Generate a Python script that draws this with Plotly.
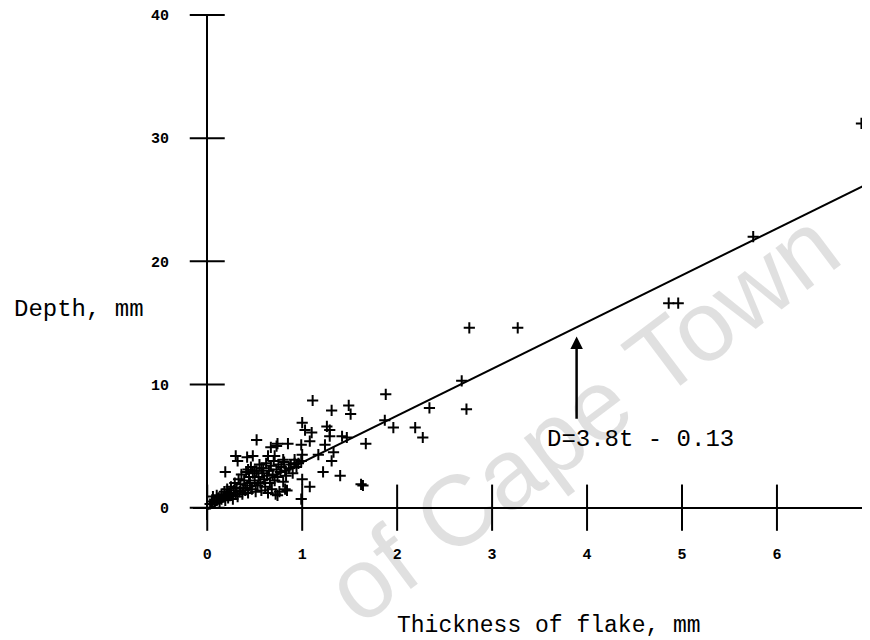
import plotly.graph_objects as go

# ---- data ----
thickness = [
    6.89, 5.75, 4.86, 4.96, 2.76, 3.27,
    1.88, 1.87, 1.96, 2.19, 2.27, 2.34, 2.68, 2.73,
    1.11, 1.31, 1.49, 1.51, 1.00, 1.03, 1.10, 1.26, 1.29, 1.29, 1.42, 1.47, 1.67,
    0.52, 0.74, 0.73, 0.85, 0.99, 1.08, 1.24, 0.67, 0.64, 0.30, 0.32, 0.42, 0.48,
    0.71, 0.80, 1.17, 1.00, 1.33, 1.31, 0.99, 0.92, 0.19, 0.43, 0.50, 0.57, 0.82,
    1.22, 1.40, 1.00, 1.08, 1.62, 1.64, 0.99, 0.82, 0.74,
    0.03, 0.05, 0.06, 0.08, 0.10, 0.10, 0.12, 0.13, 0.15, 0.15, 0.17, 0.18, 0.19,
    0.20, 0.21, 0.22, 0.23, 0.25, 0.25, 0.27, 0.28, 0.29, 0.30, 0.31, 0.32, 0.33,
    0.34, 0.35, 0.36, 0.37, 0.38, 0.39, 0.40, 0.41, 0.42, 0.43, 0.44, 0.45, 0.46,
    0.47, 0.48, 0.50, 0.51, 0.52, 0.53, 0.54, 0.55, 0.56, 0.57, 0.58, 0.59, 0.60,
    0.61, 0.62, 0.63, 0.64, 0.65, 0.66, 0.67, 0.68, 0.69, 0.70, 0.71, 0.72, 0.73,
    0.74, 0.75, 0.76, 0.77, 0.78, 0.80, 0.81, 0.83, 0.84, 0.86, 0.88, 0.90, 0.92,
    0.94, 0.96,
]
depth = [
    31.2, 22.0, 16.6, 16.6, 14.6, 14.6,
    9.2, 7.1, 6.5, 6.5, 5.7, 8.1, 10.3, 8.0,
    8.7, 7.9, 8.3, 7.6, 6.9, 6.3, 6.1, 6.6, 6.3, 5.8, 5.8, 5.7, 5.2,
    5.5, 5.2, 5.0, 5.2, 5.1, 5.4, 5.1, 4.9, 4.2, 4.2, 3.8, 4.1, 4.2,
    4.2, 3.9, 4.3, 4.3, 4.5, 3.8, 3.8, 3.6, 2.9, 3.1, 3.0, 3.2, 3.0,
    2.9, 2.6, 2.3, 1.7, 1.9, 1.8, 0.7, 1.5, 1.0,
    0.3, 0.5, 0.9, 0.4, 0.6, 1.0, 0.8, 0.5, 0.7, 1.1, 0.9, 1.3, 0.6,
    1.0, 1.5, 0.8, 1.2, 1.0, 1.7, 0.7, 1.4, 2.0, 1.1, 1.6, 0.9, 2.3,
    1.3, 1.9, 2.7, 1.1, 1.6, 2.2, 1.4, 2.9, 1.8, 1.2, 2.5, 2.0, 3.3,
    1.5, 2.8, 2.2, 1.3, 3.0, 1.8, 2.5, 3.5, 2.0, 1.4, 2.8, 3.2, 2.3,
    1.7, 3.6, 2.6, 1.2, 3.0, 2.0, 3.4, 1.5, 2.7, 3.8, 2.2, 1.1, 3.1,
    2.5, 3.5, 1.3, 2.9, 3.3, 2.1, 3.7, 2.6, 1.4, 3.2, 3.5, 2.8, 3.9,
    3.3, 3.6,
]

slope = 3.8
intercept = -0.13
fit_x = [0.0, 7.0]
fit_y = [slope * v + intercept for v in fit_x]

x_ticks = [0, 1, 2, 3, 4, 5, 6]
x_labels = ["0", "1", "2", "3", "4", "5", "6"]
y_ticks = [0, 10, 20, 30, 40]
y_labels = ["0", "10", "20", "30", "40"]

x_title = "Thickness of flake, mm"
y_title = "Depth, mm"
equation = "D=3.8t - 0.13"
watermark = "of Cape Town"

MONO = "Liberation Mono, Courier New, monospace"

fig = go.Figure()

# regression line
fig.add_trace(go.Scatter(x=fit_x, y=fit_y, mode="lines",
                         line=dict(color="black", width=2), hoverinfo="skip"))

# data points
fig.add_trace(go.Scatter(x=thickness, y=depth, mode="markers",
                         marker=dict(symbol="cross-thin-open", size=8, color="black",
                                     line=dict(color="black", width=2))))

# crossing tick marks on the axes
fig.add_trace(go.Scatter(x=x_ticks, y=[0] * len(x_ticks), mode="markers",
                         cliponaxis=False, hoverinfo="skip",
                         marker=dict(symbol="line-ns-open", size=33, color="black",
                                     line=dict(color="black", width=2))))
fig.add_trace(go.Scatter(x=[0] * len(y_ticks), y=y_ticks, mode="markers",
                         cliponaxis=False, hoverinfo="skip",
                         marker=dict(symbol="line-ew-open", size=25, color="black",
                                     line=dict(color="black", width=2))))

# the page body adds an 8px offset, so the figure is 8px smaller
fig.update_layout(
    width=862, height=632,
    margin=dict(l=185, r=0, t=7, b=120),
    paper_bgcolor="white", plot_bgcolor="white",
    showlegend=False,
    xaxis=dict(range=[-0.15, 6.98], showgrid=False, showline=False,
               zeroline=True, zerolinecolor="black", zerolinewidth=2,
               tickvals=x_ticks, ticktext=x_labels, ticks="outside", ticklen=20,
               tickcolor="rgba(0,0,0,0)",
               tickfont=dict(family=MONO, size=15, color="black", weight="bold")),
    yaxis=dict(range=[-1, 40], showgrid=False, showline=False,
               zeroline=True, zerolinecolor="black", zerolinewidth=2,
               tickvals=y_ticks, ticktext=y_labels, ticks="outside", ticklen=20,
               tickcolor="rgba(0,0,0,0)",
               tickfont=dict(family=MONO, size=15, color="black", weight="bold")),
)

annotations = [
    dict(text=watermark, xref="paper", yref="paper", x=0.575, y=0.205,
         xanchor="center", yanchor="middle", showarrow=False, textangle=-37,
         font=dict(family="Liberation Sans, Arial", size=100, color="rgba(0,0,0,0.12)")),
    dict(text=y_title, xref="paper", yref="paper", x=-0.267, y=0.416,
         xanchor="left", yanchor="middle", showarrow=False,
         font=dict(family=MONO, size=24, color="black")),
    dict(text=x_title, xref="paper", yref="paper", x=0.298, y=-0.21,
         xanchor="left", yanchor="middle", showarrow=False,
         font=dict(family=MONO, size=23, color="black")),
    dict(text=equation, xref="x", yref="y", x=3.56, y=5.5,
         xanchor="left", yanchor="middle", showarrow=False,
         font=dict(family=MONO, size=24, color="black")),
    dict(text="", xref="x", yref="y", x=3.89, y=13.9,
         axref="x", ayref="y", ax=3.89, ay=7.1,
         showarrow=True, arrowhead=2, arrowsize=1, arrowwidth=2.5, arrowcolor="black"),
]
fig.update_layout(annotations=annotations)

fig.write_html("out.html")
